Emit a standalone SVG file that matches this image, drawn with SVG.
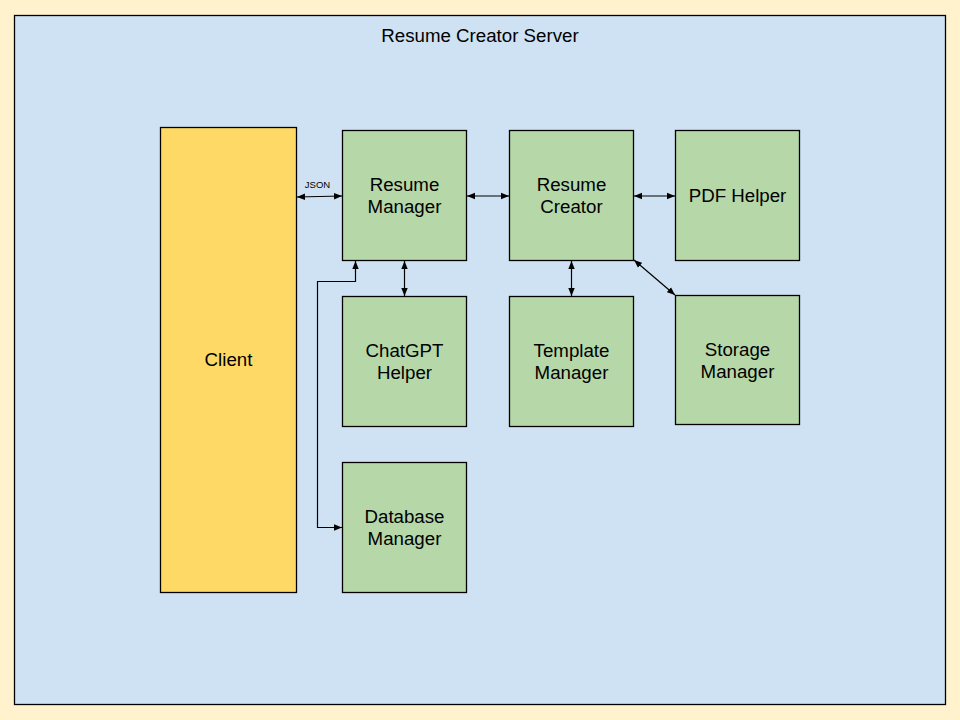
<svg xmlns="http://www.w3.org/2000/svg" width="960" height="720" viewBox="0 0 960 720">
<style>
.box{fill:#b6d7a8;stroke:#000;stroke-width:1.3}
.t{font-family:"Liberation Sans",Arial,sans-serif;font-size:18.7px;fill:#000;text-anchor:middle}
.c{fill:none;stroke:#000;stroke-width:1.2}
</style>
<defs>
<marker id="a" viewBox="0 0 10 10" refX="10" refY="5" markerWidth="8" markerHeight="8" markerUnits="userSpaceOnUse" orient="auto-start-reverse"><path d="M0,1 L10,5 L0,9 Z" fill="#000"/></marker>
</defs>
<rect x="0" y="0" width="960" height="720" fill="#fff2cc"/>
<g id="server"><rect x="14.5" y="15.5" width="931" height="689" fill="#cfe2f3" stroke="#000" stroke-width="1.3"/>
<text class="t" x="480" y="42">Resume Creator Server</text></g>
<g id="client"><rect x="160.5" y="127.5" width="136" height="465" fill="#ffd966" stroke="#000" stroke-width="1.3"/>
<text class="t" x="228.5" y="366">Client</text></g>
<g id="resume-manager"><rect class="box" x="342.5" y="130.5" width="124" height="130"/>
<text class="t" x="404.5" y="191">Resume</text><text class="t" x="404.5" y="213">Manager</text></g>
<g id="resume-creator"><rect class="box" x="509.5" y="130.5" width="124" height="130"/>
<text class="t" x="571.5" y="191">Resume</text><text class="t" x="571.5" y="213">Creator</text></g>
<g id="pdf-helper"><rect class="box" x="675.5" y="130.5" width="124" height="130"/>
<text class="t" x="737.5" y="202">PDF Helper</text></g>
<g id="chatgpt-helper"><rect class="box" x="342.5" y="296.5" width="124" height="130"/>
<text class="t" x="404.5" y="357">ChatGPT</text><text class="t" x="404.5" y="379">Helper</text></g>
<g id="template-manager"><rect class="box" x="509.5" y="296.5" width="124" height="130"/>
<text class="t" x="571.5" y="357">Template</text><text class="t" x="571.5" y="379">Manager</text></g>
<g id="storage-manager"><rect class="box" x="675.5" y="295.5" width="124" height="129"/>
<text class="t" x="737.5" y="356">Storage</text><text class="t" x="737.5" y="378">Manager</text></g>
<g id="database-manager"><rect class="box" x="342.5" y="462.5" width="124" height="130"/>
<text class="t" x="404.5" y="523">Database</text><text class="t" x="404.5" y="545">Manager</text></g>
<g id="connectors">
<path class="c" d="M297,197 L342,196" marker-start="url(#a)" marker-end="url(#a)"/>
<text x="317.5" y="188" font-family="Liberation Sans,Arial,sans-serif" font-size="9.5" text-anchor="middle">JSON</text>
<path class="c" d="M467,196 L509,196" marker-start="url(#a)" marker-end="url(#a)"/>
<path class="c" d="M634,196 L675,196" marker-start="url(#a)" marker-end="url(#a)"/>
<path class="c" d="M404.5,261 L404.5,296" marker-start="url(#a)" marker-end="url(#a)"/>
<path class="c" d="M571.5,261 L571.5,296" marker-start="url(#a)" marker-end="url(#a)"/>
<path class="c" d="M634,260 L675,295" marker-start="url(#a)" marker-end="url(#a)"/>
<path class="c" d="M355.5,261 L355.5,281.5 L317.5,281.5 L317.5,527.5 L342,527.5" marker-start="url(#a)" marker-end="url(#a)"/>
</g>
</svg>
